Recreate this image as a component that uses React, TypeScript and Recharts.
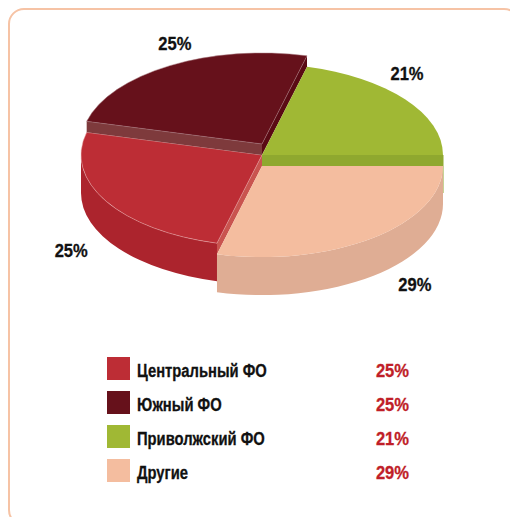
import React from 'react'
import { PieChart, Pie, Legend } from 'recharts'

const regions = ['Центральный ФО', 'Южный ФО', 'Приволжский ФО', 'Другие']
const shares = [25, 25, 21, 29]
const topColors = ['#BD2D35', '#66111B', '#A0B834', '#F4BD9F']

// one entry per slice, same order as regions
const wallColors = ['#AC242D', '#66111B', '#8FA82F', '#DFAD94']
const edgeColors = ['#E9A9A9', '#A97B80', 'none', 'none']
const lifts = [0, -11, 0, 11]
const startCuts = ['#C9544F', '#7E3A3C', null, null]
const endCuts = [null, '#5A0A14', '#8FA82F', null]
const labelNudges = [
    { dx: -35, dy: 49 },
    { dx: 5, dy: -22 },
    { dx: 2, dy: -25 },
    { dx: 42, dy: 47 },
]

const chartData = regions.map((name, i) => ({ name, value: shares[i] }))

const TILT = 0.503
const WALL_HEIGHT = 38
const CUT_HEIGHT = 11
const TEXT_FONT = '"Liberation Sans", sans-serif'
const NAME_SQUEEZE = 0.82
const VALUE_SQUEEZE = 0.92

const rad = (deg: number) => (deg * Math.PI) / 180

const Slice3D = (props: any) => {
    const { cx, cy, outerRadius, startAngle, endAngle, index } = props
    const rx = outerRadius
    const ry = outerRadius * TILT
    const cy0 = cy + lifts[index]
    const px = (a: number) => cx + rx * Math.cos(rad(a))
    const py = (a: number) => cy0 - ry * Math.sin(rad(a))

    let lo = Math.min(startAngle, endAngle)
    let hi = Math.max(startAngle, endAngle)
    if (lo < 0) {
        lo += 360
        hi += 360
    }
    const large = hi - lo > 180 ? 1 : 0
    const top = `M${cx},${cy0} L${px(hi)},${py(hi)} A${rx},${ry} 0 ${large} 1 ${px(lo)},${py(lo)} Z`

    const visLo = Math.max(lo, 180)
    const visHi = Math.min(hi, 360)
    const wall = visHi > visLo
        ? `M${px(visHi)},${py(visHi)} A${rx},${ry} 0 0 1 ${px(visLo)},${py(visLo)} ` +
          `L${px(visLo)},${py(visLo) + WALL_HEIGHT} A${rx},${ry} 0 0 0 ${px(visHi)},${py(visHi) + WALL_HEIGHT} Z`
        : null

    const cut = (a: number) =>
        `M${cx},${cy0} L${px(a)},${py(a)} L${px(a)},${py(a) + CUT_HEIGHT} L${cx},${cy0 + CUT_HEIGHT} Z`

    return (
        <g>
            {wall && <path d={wall} fill={wallColors[index]} />}
            {Math.abs(lo) < 0.01 && (
                <line x1={px(0)} y1={py(0)} x2={px(0)} y2={py(0) + WALL_HEIGHT} stroke={wallColors[index]} />
            )}
            {startCuts[index] && <path d={cut(hi)} fill={startCuts[index] as string} />}
            {endCuts[index] && <path d={cut(lo)} fill={endCuts[index] as string} />}
            <path d={top} fill={topColors[index]} stroke={edgeColors[index]} strokeWidth={0.5} />
        </g>
    )
}

const renderLabel = (props: any) => {
    const { cx, cy, outerRadius, midAngle, index, value } = props
    const x = cx + outerRadius * Math.cos(rad(midAngle)) + labelNudges[index].dx
    const y = cy + lifts[index] - outerRadius * TILT * Math.sin(rad(midAngle)) + labelNudges[index].dy
    return (
        <text
            transform={`translate(${x},${y}) scale(${VALUE_SQUEEZE},1)`}
            textAnchor="middle"
            dominantBaseline="central"
            fill="#111"
            stroke="#111"
            strokeWidth={0.3}
            style={{ fontFamily: TEXT_FONT, fontWeight: 700, fontSize: 18 }}
        >
            {value}%
        </text>
    )
}

const LegendTable = () => (
    <div style={{ fontFamily: TEXT_FONT, fontWeight: 700, fontSize: 18, WebkitTextStroke: '0.3px' }}>
        {regions.map((name, i) => (
            <div key={name} style={{ position: 'relative', height: 23, marginBottom: 11, lineHeight: '28px', whiteSpace: 'nowrap' }}>
                <div style={{ position: 'absolute', left: 0, top: 0, width: 23, height: 23, background: topColors[i] }} />
                <div style={{ position: 'absolute', left: 30, top: 0, color: '#111', transform: `scaleX(${NAME_SQUEEZE})`, transformOrigin: 'left' }}>
                    {name}
                </div>
                <div style={{ position: 'absolute', right: 1, top: 0, color: '#C01E28', transform: `scaleX(${VALUE_SQUEEZE})`, transformOrigin: 'right' }}>
                    {shares[i]}%
                </div>
            </div>
        ))}
    </div>
)

const App = () => (
    <div style={{ position: 'absolute', left: 0, top: 0, width: 510, height: 517, overflow: 'hidden', background: '#fff' }}>
        <div
            style={{
                position: 'absolute',
                left: 8,
                top: 8,
                width: 508,
                height: 514,
                border: '2px solid #F6C3A5',
                borderRadius: 16,
            }}
        />
        <PieChart width={510} height={517} margin={{ top: 0, right: 0, bottom: 0, left: 0 }} style={{ position: 'absolute', left: 0, top: 0 }}>
            <Pie
                data={chartData}
                dataKey="value"
                nameKey="name"
                cx={262}
                cy={155}
                outerRadius={181}
                startAngle={255.6}
                endAngle={-104.4}
                stroke="none"
                shape={Slice3D}
                label={renderLabel}
                labelLine={false}
                isAnimationActive={false}
            />
            <Legend
                content={LegendTable}
                wrapperStyle={{ left: 107, top: 357, width: 303, bottom: 'auto' }}
            />
        </PieChart>
    </div>
)

export default App
